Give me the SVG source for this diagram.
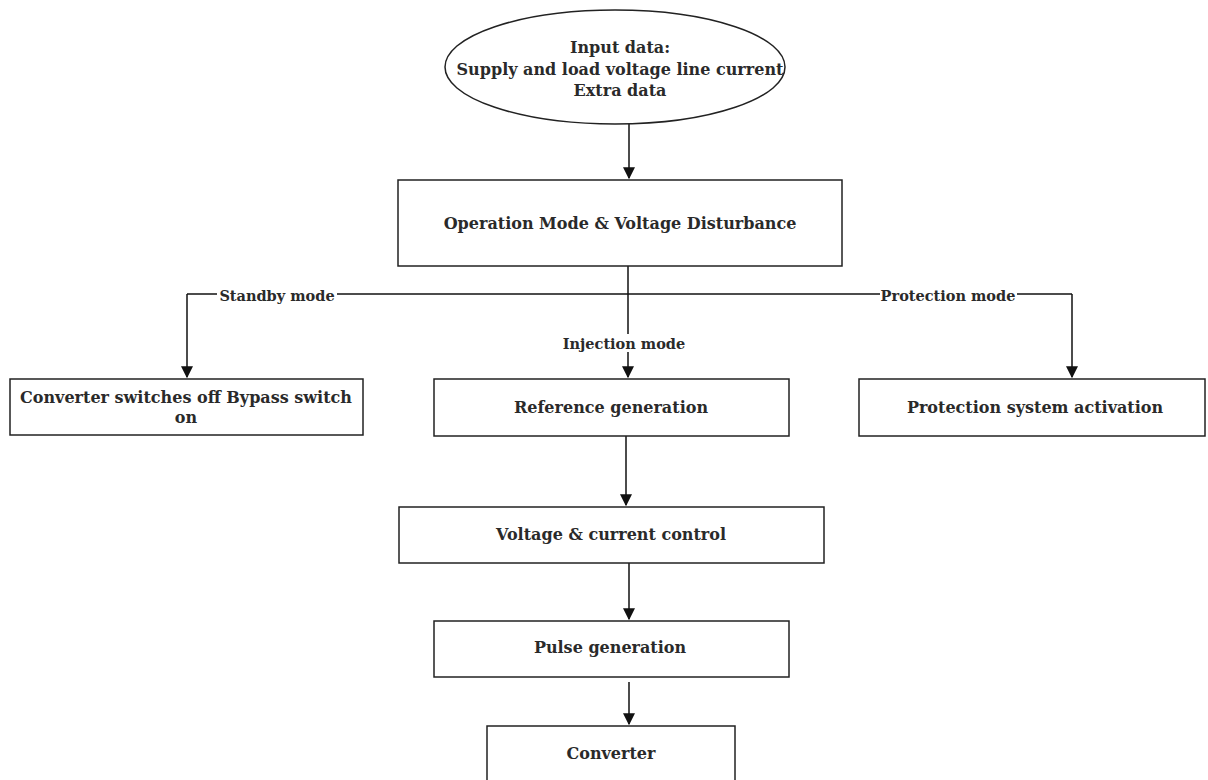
<svg xmlns="http://www.w3.org/2000/svg" width="1208" height="780" viewBox="0 0 1208 780">
<style>
.n{fill:#fff;stroke:#222;stroke-width:1.5}
.t{font-family:"DejaVu Serif",serif;font-weight:bold;font-size:16px;fill:#2a2a2a;text-anchor:middle;dominant-baseline:central}
.l{font-family:"DejaVu Serif",serif;font-weight:bold;font-size:14.5px;fill:#2a2a2a;text-anchor:middle;dominant-baseline:central}
.c{fill:none;stroke:#111;stroke-width:1.5}
.lb{fill:#fff}
</style>
<defs>
<marker id="ahb" viewBox="0 0 10 10" refX="9" refY="5" markerWidth="12" markerHeight="12" markerUnits="userSpaceOnUse" orient="auto">
<path d="M0,0 L10,5 L0,10 Z" fill="#111"/>
</marker>
</defs>
<rect width="1208" height="780" fill="#fff"/>
<g id="connectors">
<path class="c" d="M629,124 V178" marker-end="url(#ahb)"/>
<path class="c" d="M628,266 V377" marker-end="url(#ahb)"/>
<path class="c" d="M187,294 H1072"/>
<path class="c" d="M187,294 V377" marker-end="url(#ahb)"/>
<path class="c" d="M1072,294 V377" marker-end="url(#ahb)"/>
<path class="c" d="M626,436 V505" marker-end="url(#ahb)"/>
<path class="c" d="M629,563 V619" marker-end="url(#ahb)"/>
<path class="c" d="M629,682 V724" stroke="#555" marker-end="url(#ahb)"/>
<rect class="lb" x="217" y="287" width="120" height="14"/>
<text class="l" x="277" y="295">Standby mode</text>
<rect class="lb" x="880" y="287" width="137" height="14"/>
<text class="l" x="948" y="295">Protection mode</text>
<rect class="lb" x="562" y="334" width="124" height="18"/>
<text class="l" x="624" y="343">Injection mode</text>
</g>
<g id="input">
<ellipse class="n" cx="615" cy="67" rx="170" ry="57"/>
<text class="t" x="620" y="47">Input data:</text>
<text class="t" x="620" y="69">Supply and load voltage line current</text>
<text class="t" x="620" y="90">Extra data</text>
</g>
<g id="operation">
<rect class="n" x="398" y="180" width="444" height="86"/>
<text class="t" x="620" y="223">Operation Mode &amp; Voltage Disturbance</text>
</g>
<g id="standby">
<rect class="n" x="10" y="379" width="353" height="56"/>
<text class="t" x="186" y="397">Converter switches off Bypass switch</text>
<text class="t" x="186" y="417">on</text>
</g>
<g id="reference">
<rect class="n" x="434" y="379" width="355" height="57"/>
<text class="t" x="611" y="407">Reference generation</text>
</g>
<g id="protection">
<rect class="n" x="859" y="379" width="346" height="57"/>
<text class="t" x="1035" y="407">Protection system activation</text>
</g>
<g id="vcontrol">
<rect class="n" x="399" y="507" width="425" height="56"/>
<text class="t" x="611" y="534">Voltage &amp; current control</text>
</g>
<g id="pulse">
<rect class="n" x="434" y="621" width="355" height="56"/>
<text class="t" x="610" y="647">Pulse generation</text>
</g>
<g id="converter">
<rect class="n" x="487" y="726" width="248" height="70"/>
<text class="t" x="611" y="753">Converter</text>
</g>
</svg>
